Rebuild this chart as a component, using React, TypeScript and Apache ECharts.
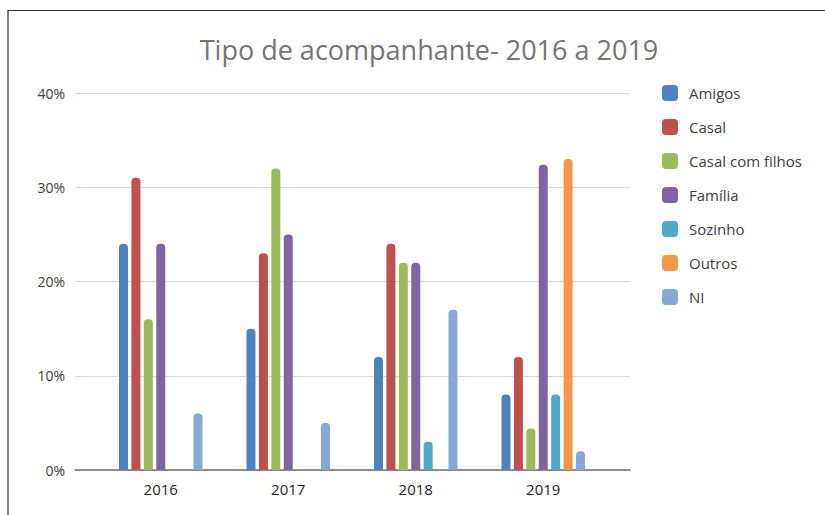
import React, { useEffect, useRef } from "react";
import * as echarts from "echarts";

const categories = ["2016", "2017", "2018", "2019"];
const seriesNames = ["Amigos", "Casal", "Casal com filhos", "Família", "Sozinho", "Outros", "NI"];
const amigos = [24, 15, 12, 8];
const casal = [31, 23, 24, 12];
const casalComFilhos = [16, 32, 22, 4.4];
const familia = [24, 25, 22, 32.4];
const sozinho = [0, 0, 3, 8];
const outros = [0, 0, 0, 33];
const ni = [6, 5, 17, 2];
const yTicks = [0, 10, 20, 30, 40];
const colors = ["#4F81BD", "#C0504D", "#9BBB59", "#8064A2", "#4BACC6", "#F79646", "#84A9D5"];

const seriesValues = [amigos, casal, casalComFilhos, familia, sozinho, outros, ni];

export default function App() {
  const ref = useRef<HTMLDivElement>(null);
  useEffect(() => {
    if (!ref.current) return;
    const chart = echarts.init(ref.current, undefined, { renderer: "svg" });
    const font = "'Open Sans', sans-serif";
    chart.setOption({
      animation: false,
      color: colors,
      title: {
        text: "Tipo de acompanhante- 2016 a 2019",
        left: 424,
        textAlign: "center",
        top: 31,
        textStyle: { fontFamily: font, fontSize: 27, fontWeight: "normal", color: "#757575" },
      },
      legend: {
        orient: "vertical",
        left: 657,
        top: 80,
        itemWidth: 16,
        itemHeight: 16,
        itemGap: 18,
        icon: "roundRect",
        data: seriesNames,
        textStyle: { fontFamily: font, fontSize: 15, lineHeight: 16, color: "#404040", padding: [0, 0, 0, 6] },
      },
      graphic: [
        {
          type: "rect",
          shape: { x: 8, y: 10.5, width: 900, height: 600 },
          style: { fill: "none", stroke: "#2b2b2b", lineWidth: 1.2 },
          silent: true,
        },
      ],
      grid: [
        { left: 97, top: 93, width: 510, height: 377 },
        { left: 75, top: 93, width: 555, height: 377 },
      ],
      xAxis: [
        {
          type: "category",
          gridIndex: 0,
          data: categories,
          axisLine: { show: false },
          axisTick: { show: false },
          axisLabel: { fontFamily: font, fontSize: 15, color: "#262626", margin: 11 },
        },
        {
          type: "value",
          gridIndex: 1,
          min: 0,
          max: 1,
          axisLine: { show: true, lineStyle: { color: "#6e6e6e", width: 1.5 } },
          axisTick: { show: false },
          axisLabel: { show: false },
          splitLine: { show: false },
        },
      ],
      yAxis: [
        {
          type: "value",
          gridIndex: 0,
          min: yTicks[0],
          max: yTicks[yTicks.length - 1],
          interval: 10,
          show: false,
          splitLine: { show: false },
        },
        {
          type: "value",
          gridIndex: 1,
          min: yTicks[0],
          max: yTicks[yTicks.length - 1],
          interval: 10,
          axisLine: { show: false },
          axisTick: { show: false },
          axisLabel: {
            fontFamily: font,
            fontSize: 14,
            color: "#404040",
            margin: 10,
            formatter: (v: number) => v + "%",
          },
          splitLine: { show: true, lineStyle: { color: "#d9d9d9", width: 1 } },
        },
      ],
      series: seriesNames.map((name, i) => ({
        name,
        type: "bar",
        xAxisIndex: 0,
        yAxisIndex: 0,
        barWidth: 9,
        barGap: "38%",
        data: seriesValues[i].map((v) => (v === 0 ? null : v)),
        itemStyle: { color: colors[i], borderRadius: [4, 4, 0, 0] },
      })),
    });
    return () => chart.dispose();
  }, []);
  return (
    <div
      ref={ref}
      style={{ position: "absolute", left: 0, top: 0, width: 825, height: 515, background: "#fff" }}
    />
  );
}
